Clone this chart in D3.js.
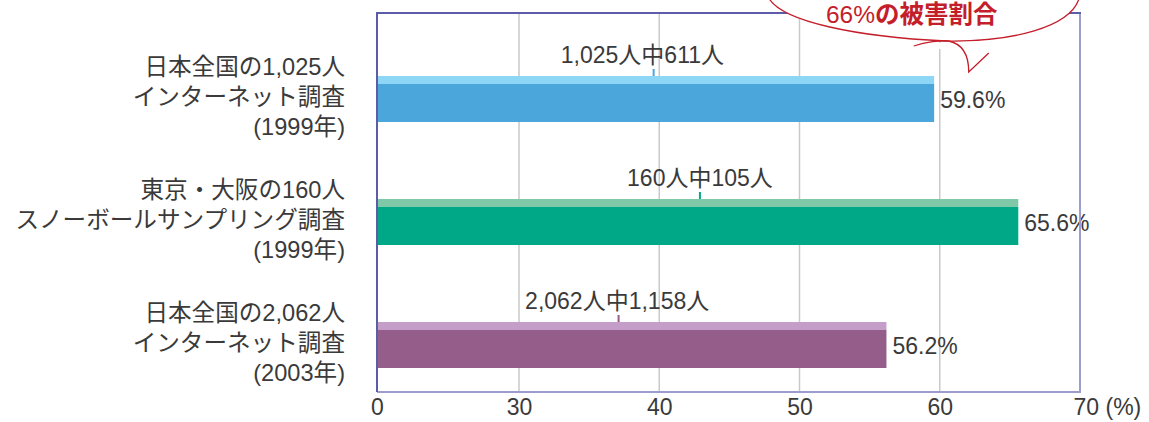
<!DOCTYPE html>
<html lang="ja">
<head>
<meta charset="utf-8">
<script src="https://cdn.jsdelivr.net/npm/d3@7/dist/d3.min.js"></script>
<style>
  html, body { margin: 0; padding: 0; background: #fff; }
  svg { display: block; }
  text { font-family: "Liberation Sans", Arial, "Noto Sans CJK JP", sans-serif; fill: #3a3a3a; }
</style>
</head>
<body>
<svg id="chart" width="1149" height="422"></svg>
<script>
// Survey groups (one label line per array entry)
const categories = ["national1999", "snowball1999", "national2003"];
const categoryLines = [
  ["日本全国の1,025人", "インターネット調査", "(1999年)"],
  ["東京・大阪の160人", "スノーボールサンプリング調査", "(1999年)"],
  ["日本全国の2,062人", "インターネット調査", "(2003年)"]
];
// Share of respondents affected (%)
const values = [59.6, 65.6, 56.2];
const valueLabels = ["59.6%", "65.6%", "56.2%"];
// Counts shown above each bar, and where their pointer sits on the axis
const countLabels = ["1,025人中611人", "160人中105人", "2,062人中1,158人"];
const countLabelAt = [38.8, 42.9, 37.0];
const pointerAt = [39.6, 42.9, 37.1];
// Broken axis: 0, then 30 to 70
const tickValues = [0, 30, 40, 50, 60, 70];
const tickLabels = ["0", "30", "40", "50", "60", "70 (%)"];
const gridValues = [30, 40, 50, 60];
const calloutNumber = "66%";
const calloutWords = "の被害割合";

const darkColors = ["#4ba6dc", "#00a888", "#955e8a"];
const lightColors = ["#8dd6f5", "#80c9a8", "#c49ec9"];

const svg = d3.select("#chart");
const plotTop = 13, plotBottom = 392;

const x = d3.scaleLinear().domain([0, 30, 70]).range([377, 519, 1080]);
const y = d3.scaleBand().domain(categories).range([76, 368]).paddingInner(77 / 123).paddingOuter(0);
const bw = y.bandwidth();
const stripH = 8;

// gridlines
svg.append("g").selectAll("line").data(gridValues).join("line")
  .attr("x1", d => x(d)).attr("x2", d => x(d))
  .attr("y1", plotTop).attr("y2", plotBottom)
  .attr("stroke", "#c9c9c9").attr("stroke-width", 1.5);

// bars: pale top strip plus solid body
const bars = svg.append("g").selectAll("g").data(categories).join("g");
bars.append("rect")
  .attr("x", x(0)).attr("y", d => y(d))
  .attr("width", (d, i) => x(values[i]) - x(0)).attr("height", stripH)
  .attr("fill", (d, i) => lightColors[i]);
bars.append("rect")
  .attr("x", x(0)).attr("y", d => y(d) + stripH)
  .attr("width", (d, i) => x(values[i]) - x(0)).attr("height", bw - stripH)
  .attr("fill", (d, i) => darkColors[i]);

// value labels at bar ends
bars.append("text")
  .attr("x", (d, i) => x(values[i]) + 6)
  .attr("y", d => y(d) + bw / 2 + 9)
  .attr("font-size", 23)
  .text((d, i) => valueLabels[i]);

// count labels with small pointers
bars.append("line")
  .attr("x1", (d, i) => x(pointerAt[i])).attr("x2", (d, i) => x(pointerAt[i]))
  .attr("y1", d => y(d) - 7).attr("y2", d => y(d))
  .attr("stroke", (d, i) => darkColors[i]).attr("stroke-width", 2);
bars.append("text")
  .attr("x", (d, i) => x(countLabelAt[i]))
  .attr("y", d => y(d) - 13)
  .attr("text-anchor", "middle")
  .attr("font-size", 23)
  .text((d, i) => countLabels[i]);

// category labels
const lineGap = 30;
bars.append("text")
  .attr("text-anchor", "end")
  .attr("font-size", 23.6)
  .each(function (d, i) {
    const cy = y(d) + bw / 2 - 2;
    d3.select(this).selectAll("tspan").data(categoryLines[i]).join("tspan")
      .attr("x", 345)
      .attr("y", (t, j) => cy + (j - 1) * lineGap + 8)
      .text(t => t);
  });

// frame
svg.append("line").attr("x1", x(70)).attr("x2", x(70)).attr("y1", plotTop).attr("y2", plotBottom)
  .attr("stroke", "#9c9ccd").attr("stroke-width", 2);
svg.append("line").attr("x1", x(0)).attr("x2", x(70) + 1).attr("y1", plotBottom).attr("y2", plotBottom)
  .attr("stroke", "#9c9ccd").attr("stroke-width", 2);
svg.append("line").attr("x1", x(0)).attr("x2", x(70) + 1).attr("y1", plotTop).attr("y2", plotTop)
  .attr("stroke", "#5c5ca8").attr("stroke-width", 2);
svg.append("line").attr("x1", x(0)).attr("x2", x(0)).attr("y1", plotTop - 1).attr("y2", plotBottom)
  .attr("stroke", "#5c5ca8").attr("stroke-width", 2);

// bottom axis labels
const axis = d3.axisBottom(x).tickValues(tickValues)
  .tickFormat((d, i) => tickLabels[i]).tickSize(0).tickPadding(0);
const gAxis = svg.append("g").attr("transform", `translate(0,${plotBottom})`).call(axis);
gAxis.select(".domain").remove();
gAxis.selectAll("text")
  .attr("font-size", 23).attr("font-family", null).attr("fill", "#3a3a3a")
  .attr("dy", null).attr("y", 23);
gAxis.selectAll(".tick").filter(d => d === 70).select("text")
  .attr("text-anchor", "start").attr("x", -7);

// callout bubble near the top of the plot
const cx = x(60);
const red = "#c41e2a";
const callout = svg.append("g");
callout.append("path")
  .attr("d", `M${cx - 172},-4 C${cx - 161},22 ${cx - 80},37 ${cx + 6},41 C${cx + 70},42 ${cx + 133},28 ${cx + 140},-4 Z`)
  .attr("fill", "#fff").attr("stroke", red).attr("stroke-width", 1.3);
callout.append("path")
  .attr("d", `M${cx - 26},44 L${cx - 9},49 L${cx + 13},49 L${cx + 29},72 L${cx + 49},53 L${cx + 61},40 Z`)
  .attr("fill", "#fff");
callout.append("path")
  .attr("d", `M${cx - 26},46 C${cx - 14},42 ${cx + 1},40 ${cx + 9},41 C${cx + 23},44 ${cx + 29},56 ${cx + 29},72 L${cx + 49},53`)
  .attr("fill", "none").attr("stroke", red).attr("stroke-width", 1.3);
const ct = callout.append("text")
  .attr("x", cx - 28).attr("y", 23).attr("text-anchor", "middle")
  .attr("font-size", 24.5).style("fill", red);
ct.append("tspan").style("fill", red).text(calloutNumber);
ct.append("tspan").style("fill", red).attr("font-weight", "bold").text(calloutWords);
</script>
</body>
</html>
